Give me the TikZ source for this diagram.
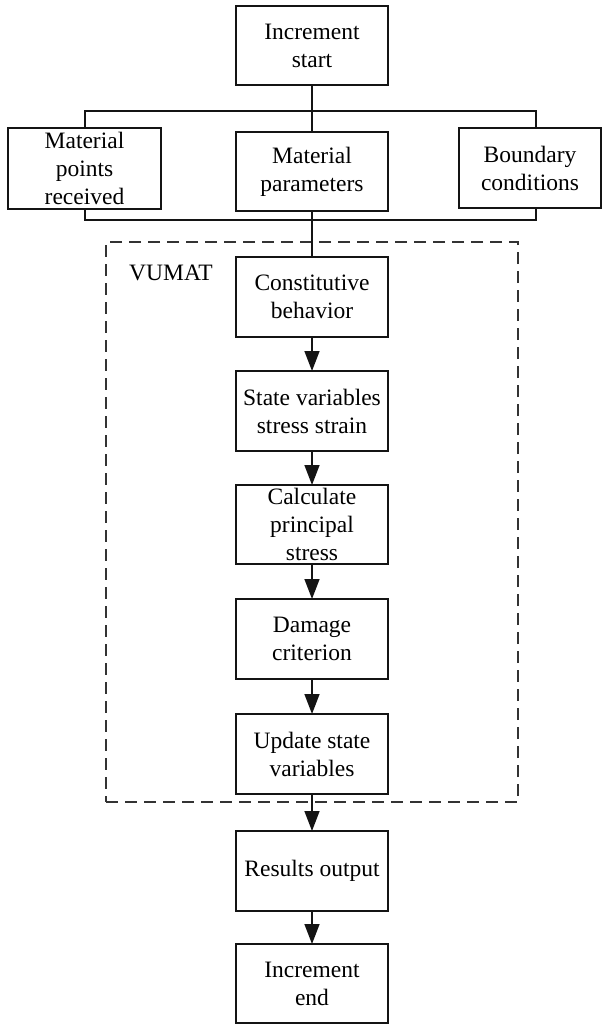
\documentclass[tikz,border=0pt]{standalone}
\usepackage{fontspec}
\setmainfont{Liberation Serif}
\usetikzlibrary{arrows.meta}
\begin{document}
\begin{tikzpicture}[x=1pt,y=-1pt,
  box/.style={draw=black!92, line width=1.5pt, minimum width=152pt, minimum height=80pt, inner sep=0pt, outer sep=0pt},
  txt/.style={font=\fontsize{23.5}{28}\selectfont, align=center, inner sep=0pt},
  arr/.style={-{Triangle[width=15pt,length=20pt]}, line width=1.5pt, draw=black!92},
  ln/.style={line width=1.5pt, draw=black!92},
  dashbox/.style={draw=black!80, line width=1.5pt, dash pattern=on 12pt off 7pt, minimum width=412pt, minimum height=560pt, inner sep=0pt}]
\useasboundingbox (0,0) rectangle (603,1024);

% top row
\node[box, minimum height=79pt] (start) at (312,45.5) {};
\node[txt] (startT) at (start.center) {Increment\\start};

\node[box, minimum width=153pt, minimum height=81pt] (left) at (84.5,168.5) {};
\node[txt] (leftT) at (left.center) {Material\\points\\received};

\node[box, minimum height=79pt] (mid) at (312,171.5) {};
\node[txt] (midT) at (mid.center) {Material\\parameters};

\node[box, minimum width=142pt, minimum height=80pt] (right) at (530,168) {};
\node[txt] (rightT) at (right.center) {Boundary\\conditions};

% VUMAT frame
\node[dashbox] (vumat) at (312,522) {};
\node[txt, anchor=base west] (vlab) at (129,280) {VUMAT};

% VUMAT steps
\node[box] (c1) at (312,297) {};
\node[txt] (c1T) at (c1.center) {Constitutive\\behavior};
\node[box] (c2) at (312,411) {};
\node[txt] (c2T) at (c2.center) {State variables\\stress strain};
\node[box, minimum height=79pt] (c3) at (312,524.5) {};
\node[txt] (c3T) at (c3.center) {Calculate\\principal\\stress};
\node[box] (c4) at (312,639) {};
\node[txt] (c4T) at (c4.center) {Damage\\criterion};
\node[box] (c5) at (312,754) {};
\node[txt] (c5T) at (c5.center) {Update state\\variables};

% outputs
\node[box] (res) at (312,871) {};
\node[txt] (resT) at (res.center) {Results output};
\node[box, minimum height=79pt] (fin) at (312,983.5) {};
\node[txt] (finT) at (fin.center) {Increment\\end};

% buses
\coordinate (busT) at (312,111);
\coordinate (busTL) at (85,111);
\coordinate (busTR) at (536,111);
\coordinate (busBL) at (85,220);
\coordinate (busBR) at (536,220);

\draw[ln] (start.south) -- (busT);
\draw[ln] (left.north -| busTL) -- (busTL) -- (busTR) -- (right.north -| busTR);
\draw[ln] (busT) -- (mid.north);
\draw[ln] (left.south -| busBL) -- (busBL) -- (busBR) -- (right.south -| busBR);
\draw[ln] (mid.south) -- (c1.north);

% arrows
\draw[arr] (c1.south) -- (c2.north);
\draw[arr] (c2.south) -- (c3.north);
\draw[arr] (c3.south) -- (c4.north);
\draw[arr] (c4.south) -- (c5.north);
\draw[arr] (c5.south) -- (res.north);
\draw[arr] (res.south) -- (fin.north);
\end{tikzpicture}
\end{document}
